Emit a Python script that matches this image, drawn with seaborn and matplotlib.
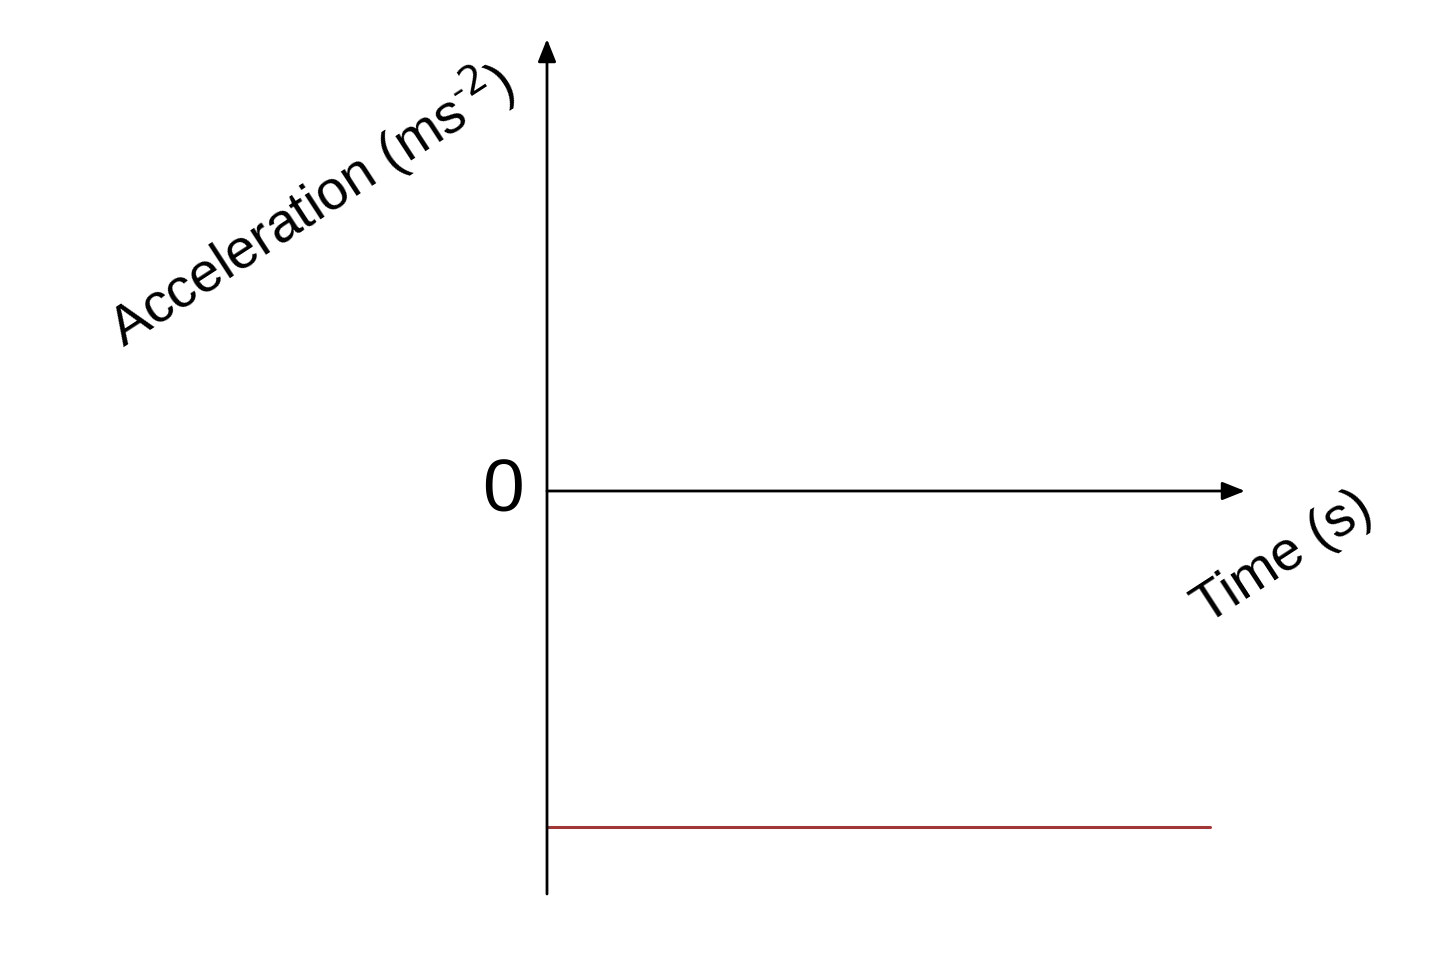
import numpy as np
import pandas as pd
import matplotlib as mpl
mpl.use("Agg")
import matplotlib.pyplot as plt
import seaborn as sns

# Data (constant negative acceleration over time)
time = [0, 10]
acceleration = [-5, -5]
y_label = "Acceleration (ms$^{\\mathregular{\u2010}2}$)"
x_label = "Time (s)"
zero_label = "0"

sns.set_theme(style="white")
plt.rcParams["font.family"] = ["Liberation Sans", "DejaVu Sans"]
plt.rcParams["text.color"] = "black"

df = pd.DataFrame({"time": time, "acceleration": acceleration})

fig = plt.figure(figsize=(14.4, 9.54), dpi=100)
ax = fig.add_axes([0, 0, 1, 1])

# pixel layout of the sketch: origin at (547, 492), 66.3 px per s, 67.2 px per unit
ox, oy, sx, sy = 547, 492, 66.3, 67.2
ax.set_xlim(-ox / sx, (1440 - ox) / sx)
ax.set_ylim(-(954 - oy) / sy, oy / sy)

sns.lineplot(data=df, x="time", y="acceleration", ax=ax, color="#a03838", lw=2.2)

# axes drawn as arrows
arrow = dict(arrowstyle="-|>,head_length=0.55,head_width=0.22", lw=2, color="black",
             mutation_scale=25, shrinkA=0, shrinkB=0)
ax.annotate("", xy=(0, (oy - 40) / sy), xytext=(0, -(895 - oy) / sy), arrowprops=arrow)
ax.annotate("", xy=((1245 - ox) / sx, 0), xytext=(0, 0), arrowprops=arrow)

ax.text(-44 / sx, 0, zero_label, fontsize=54, ha="center", va="center", color="black")
ax.text((311 - ox) / sx, (oy - 205) / sy, y_label, fontsize=40, rotation=33,
        ha="center", va="center", rotation_mode="anchor", color="black")
ax.text((1283 - ox) / sx, (oy - 558) / sy, x_label, fontsize=40, rotation=33,
        ha="center", va="center", rotation_mode="anchor", color="black")

ax.set_axis_off()
fig.savefig("out.png", dpi=100)
